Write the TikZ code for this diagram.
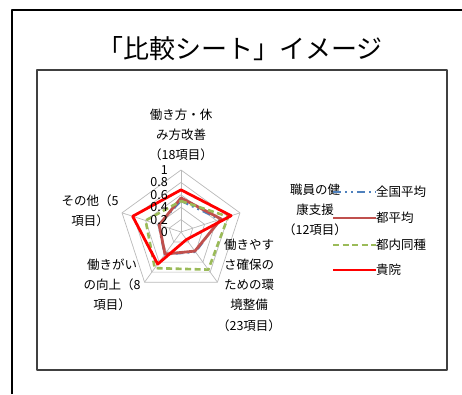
\documentclass[tikz,border=0pt]{standalone}
\usepackage{fontspec}
\setmainfont{Noto Sans CJK JP}
\usetikzlibrary{positioning}

\definecolor{zenkokublue}{HTML}{4F81BD}
\definecolor{toheibrown}{HTML}{C0504D}
\definecolor{tonaigreen}{HTML}{9BBB59}
\definecolor{kiinred}{HTML}{FF0000}

% one series of the radar: style, then the five values (top, clockwise)
% (y runs downwards here, so the angles go the other way round)
\newcommand{\radarline}[6]{%
  \draw[#1] (-90:{#2*62}) -- (-18:{#3*62}) -- (54:{#4*62}) -- (126:{#5*62}) -- (198:{#6*62}) -- cycle;}

\begin{document}
\begin{tikzpicture}[x=1pt,y=-1pt,line join=round,
    lbl/.style={align=center,inner sep=0pt,font=\fontsize{12.5}{20.3}\selectfont},
    tick/.style={anchor=east,inner sep=0pt,font=\fontsize{12.5}{13}\selectfont},
    leg/.style={anchor=west,inner sep=0pt,font=\fontsize{12.5}{14}\selectfont},
    gridline/.style={draw=gray!55,line width=0.7pt},
    zenkoku/.style={draw=zenkokublue,line width=2pt,dash pattern=on 8pt off 4pt on 2pt off 4pt on 2pt off 4pt},
    tohei/.style={draw=toheibrown,line width=2.8pt},
    tonai/.style={draw=tonaigreen,line width=2.6pt,dash pattern=on 6pt off 3.5pt},
    kiin/.style={draw=kiinred,line width=2.8pt}]
    \useasboundingbox (0,0) rectangle (462,394);

    % frames
    \draw[line width=2pt] (12,394) -- (12,10) -- (462,10);
    \draw[draw=black!75,line width=1.4pt] (37,70) rectangle (447,370);

    \node[font=\fontsize{26}{26}\selectfont,inner sep=0pt] (title) at (240,49) {「比較シート」イメージ};

    % radar grid and data
    \begin{scope}[shift={(181,232)}]
        \foreach \r in {1,...,5}
            \draw[gridline] (-90:{\r*12.4}) -- (-18:{\r*12.4}) -- (54:{\r*12.4}) -- (126:{\r*12.4}) -- (198:{\r*12.4}) -- cycle;
        \foreach \a in {-90,-18,54,126,198}
            \draw[gridline] (0,0) -- (\a:62);

        \radarline{zenkoku}{0.50}{0.66}{0.40}{0.45}{0.38}
        \radarline{tohei}{0.55}{0.68}{0.38}{0.44}{0.37}
        \radarline{tonai}{0.50}{0.80}{0.75}{0.72}{0.60}
        \radarline{kiin}{0.68}{0.85}{0.15}{0.64}{0.82}
    \end{scope}

    % scale
    \foreach \v/\t in {0/0,1/0.2,2/0.4,3/0.6,4/0.8,5/1}
        \node[tick] (t\v) at (168,{232-12.4*\v}) {\t};

    % axis labels
    \node[lbl] (top) at (181,135) {働き方・休\\み方改善\\（18項目）};
    \node[lbl] (right) at (315,210) {職員の健\\康支援\\（12項目）};
    \node[lbl] (lowright) at (249,285) {働きやす\\さ確保の\\ための環\\境整備\\（23項目）};
    \node[lbl] (lowleft) at (112,285) {働きがい\\の向上（8\\項目）};
    \node[lbl] (left) at (90,211) {その他（5\\項目）};

    % legend
    \node[leg] (l1) at (376,192) {全国平均};
    \node[leg] (l2) at (376,218) {都平均};
    \node[leg] (l3) at (376,245) {都内同種};
    \node[leg] (l4) at (376,270) {貴院};
    \coordinate (s1) at (333,192);
    \coordinate (s2) at (333,218);
    \coordinate (s3) at (333,245);
    \coordinate (s4) at (333,270);
    \draw[zenkoku] (s1) -- (l1.west);
    \draw[tohei] (s2) -- (l2.west);
    \draw[tonai] (s3) -- (l3.west);
    \draw[kiin] (s4) -- (l4.west);
\end{tikzpicture}
\end{document}
